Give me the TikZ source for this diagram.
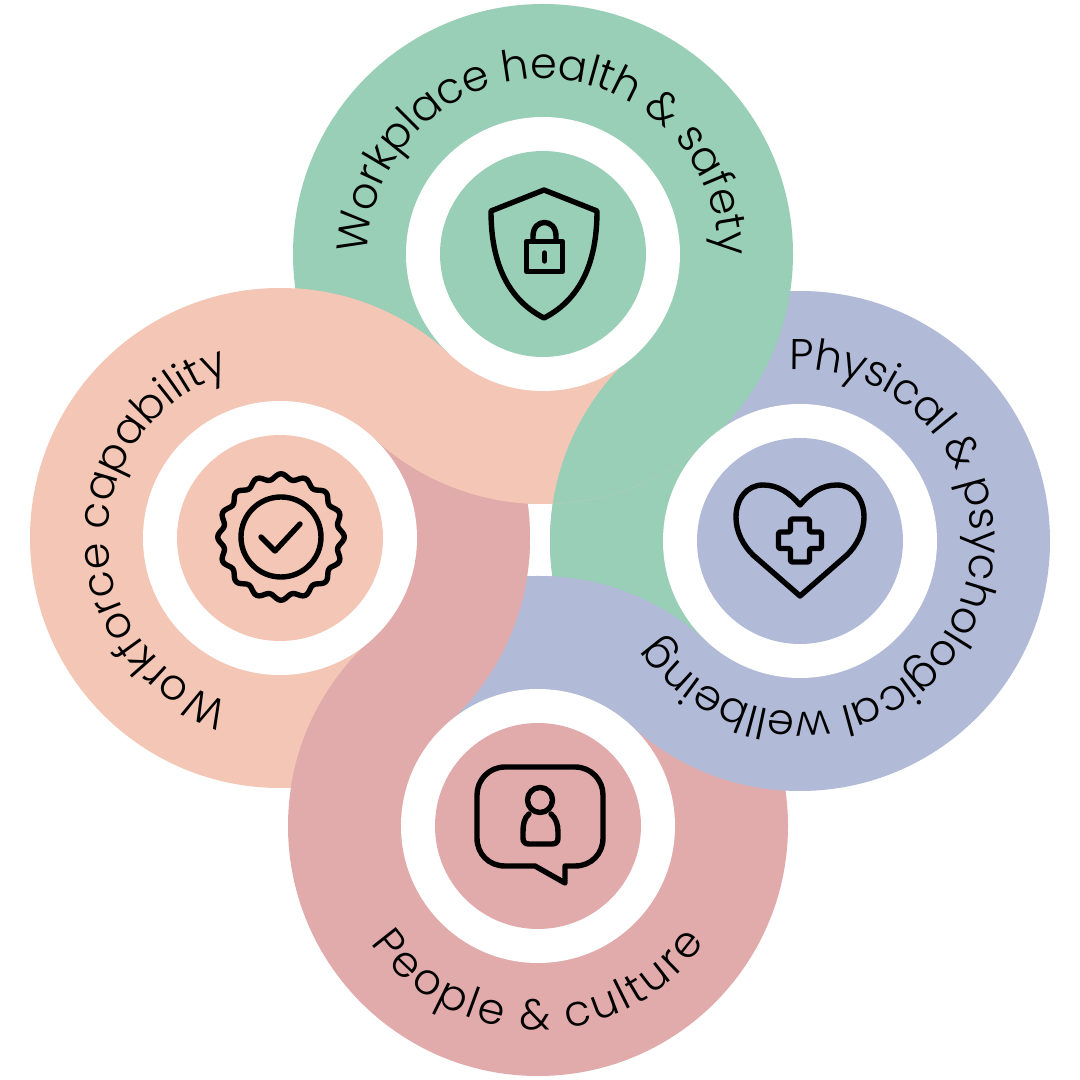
\documentclass[tikz,border=0pt]{standalone}
\usepackage{fontspec}
\newfontfamily\rtfam{Poppins Light}
\usetikzlibrary{calc}
\definecolor{cgreen}{RGB}{153,207,182}
\definecolor{csalmon}{RGB}{244,198,182}
\definecolor{cpink}{RGB}{226,171,171}
\definecolor{cblue}{RGB}{177,186,215}
\def\Ro{250pt}
\newcommand{\wedgefill}[4]{%
  \begin{scope}
    \clip (#1) circle[radius=\Ro];
    \fill[#4] (#1) -- ($(#1)!2!(#2)$) -- ($(#1)!2!(#3)$) -- cycle;
  \end{scope}}
\newcommand{\lensfill}[3]{%
  \begin{scope}
    \clip (#1) circle[radius=\Ro];
    \fill[#3] (#2) circle[radius=\Ro];
  \end{scope}}
\tikzset{
  icon/.style={draw=black,line width=5.4pt,line cap=round,line join=round},
  ringletter/.style={anchor=base,inner sep=0pt,outer sep=0pt,text=black}
}
\newsavebox\rtbox
\newdimen\rtpos
\newdimen\rtstep
\newcommand{\rtfont}{\rtfam\fontsize{43pt}{50pt}\selectfont}
% centre, radius, start angle, direction (-1 clockwise, +1 anticlockwise), tracking, letters
\newcommand{\ringtext}[6]{%
  \global\rtpos=0pt
  \foreach \ch in {#6}{%
    \begin{pgfinterruptpicture}%
      \global\setbox\rtbox=\hbox{\rtfont\ch}%
    \end{pgfinterruptpicture}%
    \global\rtstep=\wd\rtbox
    \pgfmathsetmacro\rtang{#3+(#4)*(\the\rtpos+0.5*\the\rtstep)/(#2)*57.29578}%
    \pgfmathsetmacro\rtrot{\rtang+(#4)*90}%
    \node[ringletter,font=\rtfont,rotate=\rtrot] at ($(#1)+(\rtang:#2)$) {\ch};
    \global\advance\rtpos by \rtstep
    \global\advance\rtpos by #5pt
  }%
}
\begin{document}
\begin{tikzpicture}[x=1pt,y=1pt]
\useasboundingbox (0,0) rectangle (1080,1080);
\fill[white] (0,0) rectangle (1080,1080);
\coordinate (G) at (543,826);
\coordinate (B) at (800,539);
\coordinate (S) at (280,542);
\coordinate (P) at (538,254);
% discs, cyclic overlaps
\fill[cgreen] (G) circle[radius=\Ro];
\fill[csalmon] (S) circle[radius=\Ro];
\fill[cpink] (P) circle[radius=\Ro];
\fill[cblue] (B) circle[radius=\Ro];
% tails
\wedgefill{B}{G}{P}{cgreen}
\wedgefill{P}{B}{S}{cblue}
\lensfill{P}{B}{cblue}
\wedgefill{S}{P}{G}{cpink}
\lensfill{S}{P}{cpink}
\wedgefill{G}{S}{B}{csalmon}
\lensfill{G}{S}{csalmon}
\lensfill{B}{G}{cgreen}
% rings
\fill[white] (G) circle[radius=137pt]; \fill[cgreen] (G) circle[radius=103pt];
\fill[white] (B) circle[radius=137pt]; \fill[cblue] (B) circle[radius=103pt];
\fill[white] (S) circle[radius=137pt]; \fill[csalmon] (S) circle[radius=103pt];
\fill[white] (P) circle[radius=137pt]; \fill[cpink] (P) circle[radius=103pt];
% labels
\ringtext{G}{175}{180}{-1}{-0.25}{W,o,r,k,p,l,a,c,e,~,h,e,a,l,t,h,~,\&,~,s,a,f,e,t,y}
\ringtext{B}{171}{93.5}{-1}{-0.7}{P,h,y,s,i,c,a,l,~,\&,~,p,s,y,c,h,o,l,o,g,i,c,a,l,~,w,e,l,l,b,e,i,n,g}
\ringtext{S}{172}{253}{-1}{0}{W,o,r,k,f,o,r,c,e,~,c,a,p,a,b,i,l,i,t,y}
\ringtext{P}{204}{215}{1}{3}{P,e,o,p,l,e,~,\&,~,c,u,l,t,u,r,e}
\begin{scope}[shift={(0,1080)},yscale=-1]
% shield icon
\draw[icon] (544,190) -- (597,211) .. controls (597,255) and (585,297) .. (544,318)
  .. controls (503,297) and (491,255) .. (491,211) -- cycle;
\draw[icon] (526.5,241.5) rectangle (562.5,271.5);
\draw[icon] (533,241) -- (533,236) .. controls (533,218) and (556,218) .. (556,236) -- (556,241);
\draw[icon] (544.5,253) -- (544.5,261);
% seal
\draw[icon] plot[domain=0:360,samples=161,smooth] ({281+(60.5+2.8*cos(16*\x))*cos(\x)},{537+(60.5+2.8*cos(16*\x))*sin(\x)});
\draw[icon] (281,537) circle[radius=40];
\draw[icon] (261,537) -- (275,551) -- (300,524);
% heart
\draw[icon] (800,596) -- (753,555) .. controls (743,545) and (736,532) .. (736,517)
  .. controls (736,499) and (747,485) .. (763,485)
  .. controls (778,485) and (790,493) .. (800,505)
  .. controls (810,493) and (822,485) .. (837,485)
  .. controls (853,485) and (864,499) .. (864,517)
  .. controls (864,532) and (857,545) .. (847,555) -- cycle;
\draw[icon,rounded corners=1.5pt] (790.5,519) -- (809.5,519) -- (809.5,532) -- (821.5,532) -- (821.5,548.5) -- (809.5,548.5) -- (809.5,562) -- (790.5,562) -- (790.5,548.5) -- (778.5,548.5) -- (778.5,532) -- (790.5,532) -- cycle;
% bubble
\draw[icon] (505,767) -- (575,767) .. controls (591,767) and (603,780) .. (603,795)
  -- (603,838) .. controls (603,854) and (591,866) .. (575,866) -- (565,866) -- (565,883) -- (535,866) -- (505,866)
  .. controls (489,866) and (477,854) .. (477,838) -- (477,795) .. controls (477,780) and (489,767) .. (505,767) -- cycle;
\draw[icon] (540,800) circle[radius=12.5];
\draw[icon] (529,814) .. controls (524,818) and (523,825) .. (523,832) -- (523,838) .. controls (523,842) and (525,844) .. (529,844) -- (552,844) .. controls (556,844) and (558,842) .. (558,838) -- (558,832) .. controls (558,825) and (556,818) .. (551,814);
\end{scope}
\end{tikzpicture}
\end{document}
